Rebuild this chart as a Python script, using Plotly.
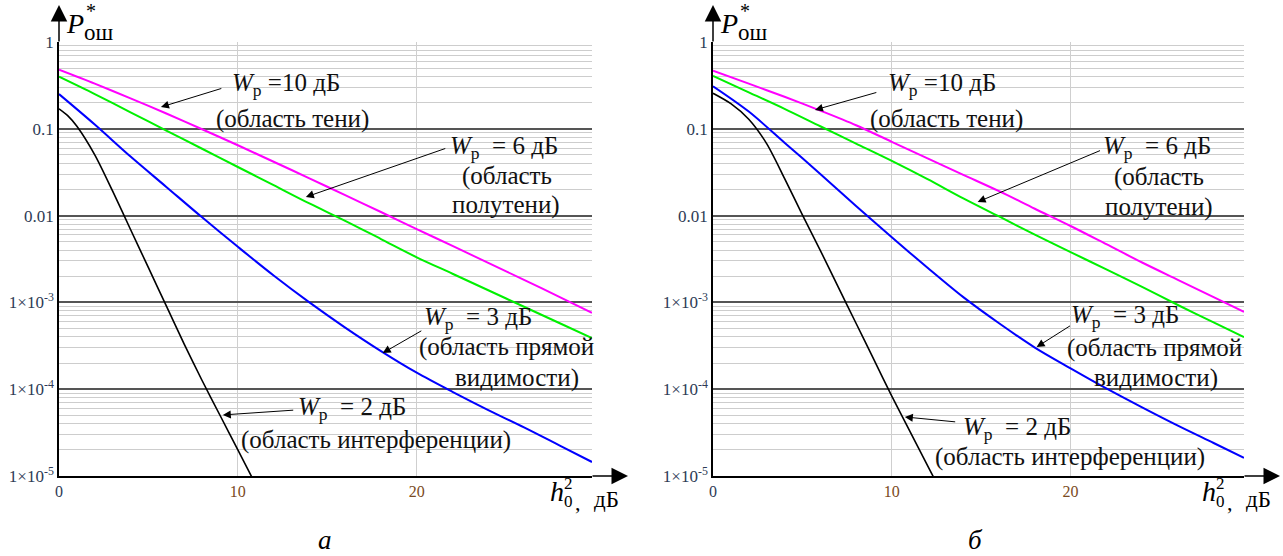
import math
import plotly.graph_objects as go

W, H = 1283, 556

# ---------------- data ----------------
x_grid_a = [0, 2, 4, 6, 8, 10, 12, 14, 16, 18, 20, 22, 24, 26, 28, 29.8]
p_a_10db = [0.479, 0.331, 0.224, 0.150, 0.0989, 0.0646, 0.0417, 0.0269, 0.0172, 0.0110,
            0.00700, 0.00447, 0.00285, 0.00182, 0.00115, 0.000759]
p_a_6db = [0.398, 0.251, 0.155, 0.0955, 0.0589, 0.0363, 0.0224, 0.0138, 0.00871, 0.00537,
           0.00331, 0.00214, 0.00138, 0.000891, 0.000575, 0.000389]
p_a_3db = [0.251, 0.112, 0.0479, 0.0214, 0.00955, 0.00437, 0.00204, 0.00100, 0.000513, 0.000275,
           0.000155, 9.33e-5, 5.75e-5, 3.63e-5, 2.24e-5, 1.45e-5]
x_a_2db = [0, 0.5, 1, 2, 3, 4, 5, 6, 7, 8, 9, 10, 11]
p_a_2db = [0.170, 0.141, 0.107, 0.0501, 0.0191, 0.00692, 0.00251, 0.000912, 0.000331,
           0.000126, 5.01e-5, 2.00e-5, 7.94e-6]

x_grid_b = [0, 2, 4, 6, 8, 10, 12, 14, 16, 18, 20, 22, 24, 26, 28, 29.7]
p_b_10db = [0.468, 0.331, 0.234, 0.162, 0.110, 0.0708, 0.0457, 0.0295, 0.0191, 0.0120,
            0.00759, 0.00468, 0.00288, 0.00182, 0.00115, 0.000776]
p_b_6db = [0.407, 0.263, 0.170, 0.107, 0.0676, 0.0427, 0.0263, 0.0158, 0.00977, 0.00603,
           0.00380, 0.00240, 0.00151, 0.000933, 0.000589, 0.000398]
p_b_3db = [0.309, 0.158, 0.0692, 0.0302, 0.0129, 0.00562, 0.00251, 0.00115, 0.000575, 0.000302,
           0.000174, 0.000102, 6.17e-5, 3.80e-5, 2.40e-5, 1.62e-5]
x_b_2db = [0, 1, 2, 3, 4, 5, 6, 7, 8, 9, 10, 11, 12, 12.6]
p_b_2db = [0.257, 0.195, 0.129, 0.0676, 0.0269, 0.0102, 0.00398, 0.00151, 0.000575,
           0.000219, 8.32e-5, 3.31e-5, 1.32e-5, 7.59e-6]

y_tick_vals = [1e-5, 1e-4, 1e-3, 0.01, 0.1, 1]
y_tick_text = ["1×10<sup>-5</sup>", "1×10<sup>-4</sup>", "1×10<sup>-3</sup>", "0.01", "0.1", "1"]
x_tick_vals = [0, 10, 20]
x_tick_text = ["<span style='color:#2e3b55'>0</span>", "10", "20"]

# labels: (line texts, [(x, P) for each line], arrow tip (x, P), arrow tail (x, P))
labels_a = [
    (["<i>W</i><sub>p</sub> =10 дБ", "(область тени)"], [(12.7, 0.328), (13.07, 0.130)],
     (5.70, 0.178), (9.16, 0.295)),
    (["<i>W</i><sub>p</sub>  = 6 дБ", "(область", "полутени)"],
     [(24.86, 0.0617), (25.03, 0.0286), (25.0, 0.01324)], (13.8, 0.01637), (21.68, 0.0601)),
    (["<i>W</i><sub>p</sub>  = 3 дБ", "(область прямой", "видимости)"],
     [(23.4, 6.61e-4), (25.03, 3.06e-4), (25.6, 1.35e-4)], (18.1, 2.61e-4), (20.34, 4.81e-4)),
    (["<i>W</i><sub>p</sub>  = 2 дБ", "(область интерференции)"],
     [(16.37, 5.92e-5), (17.71, 2.60e-5)], (9.16, 5.05e-5), (13.18, 5.75e-5)),
]
labels_b = [
    (["<i>W</i><sub>p</sub> =10 дБ", "(область тени)"], [(12.79, 0.328), (13.07, 0.130)],
     (5.70, 0.165), (9.22, 0.265)),
    (["<i>W</i><sub>p</sub>  = 6 дБ", "(область", "полутени)"],
     [(24.86, 0.0617), (24.97, 0.0279), (24.97, 0.01256)], (14.8, 0.01435), (21.73, 0.0570)),
    (["<i>W</i><sub>p</sub>  = 3 дБ", "(область прямой", "видимости)"],
     [(23.02, 6.97e-4), (24.69, 2.98e-4), (24.8, 1.35e-4)], (18.1, 3.06e-4), (20.05, 5.50e-4)),
    (["<i>W</i><sub>p</sub>  = 2 дБ", "(область интерференции)"],
     [(16.98, 3.48e-5), (19.94, 1.66e-5)], (10.73, 4.79e-5), (13.63, 4.19e-5)),
]

colors = {"10": "#ff00ff", "6": "#00f000", "3": "#0000ff", "2": "#000000"}
SERIF = "Liberation Serif, DejaVu Serif, Times New Roman, serif"

# ---------------- figure ----------------
fig = go.Figure()


def px(x):
    return x / W


def py(y):
    return 1 - y / H


def paper_text(x, y, text, size, italic=False):
    fig.add_annotation(x=px(x), y=py(y), xref="paper", yref="paper",
                       text=f"<i>{text}</i>" if italic else text, showarrow=False,
                       xanchor="center", yanchor="middle", borderpad=0,
                       font=dict(family=SERIF, size=size, color="#000"))


panels = [
    ("x", "y", x_grid_a, [p_a_10db, p_a_6db, p_a_3db], x_a_2db, p_a_2db, labels_a),
    ("x2", "y2", x_grid_b, [p_b_10db, p_b_6db, p_b_3db], x_b_2db, p_b_2db, labels_b),
]

for xa, ya, xg, series, x2, p2, labels in panels:
    for key, vals in zip(["10", "6", "3"], series):
        fig.add_trace(go.Scatter(x=xg, y=vals, mode="lines", xaxis=xa, yaxis=ya,
                                 line=dict(color=colors[key], width=2, shape="spline",
                                           smoothing=0.9),
                                 showlegend=False))
    fig.add_trace(go.Scatter(x=x2, y=p2, mode="lines", xaxis=xa, yaxis=ya,
                             line=dict(color=colors["2"], width=1.6, shape="spline",
                                       smoothing=0.8),
                             showlegend=False))
    for lines, pos, tip, tail in labels:
        for t, (lx, lp) in zip(lines, pos):
            fig.add_annotation(x=lx, y=math.log10(lp), xref=xa, yref=ya, text=t,
                               showarrow=False, font=dict(family=SERIF, size=25, color="#111"),
                               xanchor="center", yanchor="middle")
        fig.add_annotation(x=tip[0], y=math.log10(tip[1]), xref=xa, yref=ya,
                           ax=tail[0], ay=math.log10(tail[1]), axref=xa, ayref=ya,
                           text="", showarrow=True, arrowhead=2, arrowsize=1.6,
                           arrowwidth=1, arrowcolor="#000")

minor_vals = [m * 10 ** k for k in range(-5, 0) for m in range(2, 10)]

xcommon = dict(range=[0, 29.8], showline=True, linecolor="#000", linewidth=1.5,
               tickmode="array", tickvals=x_tick_vals, ticktext=x_tick_text,
               showgrid=True, gridcolor="#cfcfcf", gridwidth=1, zeroline=False,
               ticks="", tickfont=dict(family=SERIF, size=16, color="#7a4a22"),
               automargin=False, fixedrange=True)
ycommon = dict(type="log", range=[-5, 0], showline=True, linecolor="#000", linewidth=1.5,
               tickmode="array", tickvals=y_tick_vals, ticktext=y_tick_text,
               showgrid=True, gridcolor="#555555", gridwidth=1.6, zeroline=False,
               ticks="", tickfont=dict(family=SERIF, size=17, color="#2e3b55"),
               minor=dict(tickmode="array", tickvals=minor_vals, showgrid=True,
                          gridcolor="#cdcdcd", gridwidth=1, ticks=""),
               automargin=False, fixedrange=True)

ydom = [py(476), py(42)]
fig.update_layout(
    width=W, height=H, margin=dict(l=0, r=0, t=0, b=0, pad=0), autosize=False,
    paper_bgcolor="white", plot_bgcolor="white", showlegend=False,
    xaxis=dict(domain=[px(59), px(592)], anchor="y", **xcommon),
    yaxis=dict(domain=ydom, anchor="x", **ycommon),
    xaxis2=dict(domain=[px(713), px(1244)], anchor="y2", **{**xcommon, "range": [0, 29.7]}),
    yaxis2=dict(domain=ydom, anchor="x2", **ycommon),
)

# axis arrows, axis titles and panel captions
for x0, xr in [(59, 592), (713, 1244)]:
    fig.add_annotation(x=px(x0), y=py(5), xref="paper", yref="paper", ax=0, ay=38,
                       text="", showarrow=True, arrowhead=2, arrowsize=2.2, arrowwidth=1.5,
                       arrowcolor="#000")
    fig.add_annotation(x=px(xr + 36), y=py(476), xref="paper", yref="paper", ax=-37, ay=0,
                       text="", showarrow=True, arrowhead=2, arrowsize=2.2, arrowwidth=1.5,
                       arrowcolor="#000")
    # P*_ош
    paper_text(x0 + 16, 24, "P", 28, italic=True)
    paper_text(x0 + 32, 11, "*", 20)
    paper_text(x0 + 40, 33, "ош", 23)
    # h0^2, дБ
    hx = xr - 35
    paper_text(hx, 491, "h", 28, italic=True)
    paper_text(hx + 11, 483, "2", 17)
    paper_text(hx + 11, 501, "0", 17)
    paper_text(hx + 21, 502, ",", 22)
    paper_text(hx + 49, 499, "дБ", 23)

paper_text(325, 540, "а", 27, italic=True)
paper_text(975, 540, "б", 27, italic=True)

fig.write_html(
    "out.html",
    config={"displayModeBar": False, "responsive": False},
    post_script=("document.body.style.margin='0';document.body.style.overflow='hidden';"
                 "document.documentElement.style.overflow='hidden';"),
)
